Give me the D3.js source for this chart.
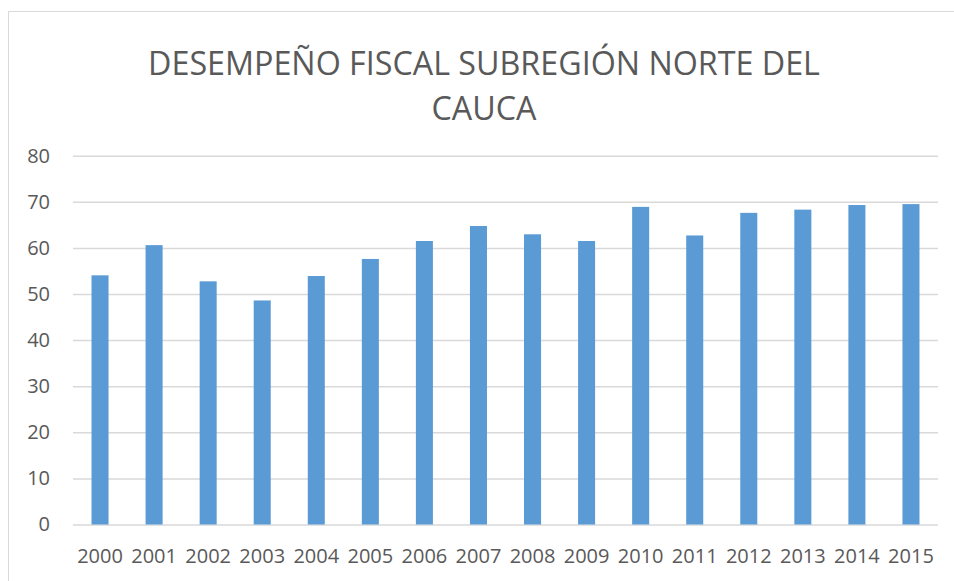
<!DOCTYPE html>
<html>
<head>
<meta charset="utf-8">
<script src="https://cdn.jsdelivr.net/npm/d3@7"></script>
<style>
  body { margin: 0; background: white; }
  text { font-family: "Open Sans", sans-serif; fill: #595959; }
</style>
</head>
<body>
<svg id="chart" width="954" height="581"></svg>
<script>
// data
const years = ['2000', '2001', '2002', '2003', '2004', '2005', '2006', '2007',
  '2008', '2009', '2010', '2011', '2012', '2013', '2014', '2015']
const values = [54.05, 60.6, 52.75, 48.6, 53.9, 57.6, 61.5, 64.75,
  62.95, 61.5, 68.9, 62.7, 67.6, 68.3, 69.3, 69.5]
const yTicks = [0, 10, 20, 30, 40, 50, 60, 70, 80]
const titleLines = ['DESEMPEÑO FISCAL SUBREGIÓN NORTE DEL', 'CAUCA']

const margin = { left: 73, right: 16, top: 155.7, bottom: 56.5 }
const width = 954 - margin.left - margin.right
const height = 581 - margin.top - margin.bottom

const svg = d3.select('#chart')

// chart frame
svg.append('rect')
  .attr('x', 8.5)
  .attr('y', 11.5)
  .attr('width', 960)
  .attr('height', 600)
  .attr('fill', 'none')
  .attr('stroke', '#d9d9d9')
  .attr('stroke-width', 1)

const g = svg.append('g')
  .attr('transform', 'translate(' + margin.left + ',' + margin.top + ')')

const xScale = d3.scaleBand().domain(years).range([0, width]).paddingInner(0.685).paddingOuter(0.3425)
const yScale = d3.scaleLinear().domain([0, 80]).range([height, 0])

/**
 * Draws the horizontal grid lines and the y labels
 */
function drawYAxis () {
  g.append('g')
    .attr('id', 'gridy')
    .call(d3.axisLeft(yScale).tickValues(yTicks).tickSize(-width).tickFormat(''))
    .call(function (sel) { sel.select('.domain').remove() })
    .selectAll('line')
    .attr('stroke', '#d9d9d9')
    .attr('stroke-width', 1.5)

  g.append('g')
    .selectAll('.ylabel')
    .data(yTicks)
    .enter()
    .append('text')
    .attr('class', 'ylabel')
    .attr('x', -23)
    .attr('y', function (d) { return yScale(d) + 7 })
    .attr('text-anchor', 'end')
    .style('font-size', '20px')
    .text(function (d) { return d })
}

/**
 * Draws the bars
 */
function drawBars () {
  g.selectAll('.bar')
    .data(values)
    .enter()
    .append('rect')
    .attr('class', 'bar')
    .attr('x', function (d, i) { return xScale(years[i]) })
    .attr('y', function (d) { return yScale(d) })
    .attr('width', xScale.bandwidth())
    .attr('height', function (d) { return height - yScale(d) })
    .attr('fill', '#5b9bd5')
}

/**
 * Draws the x labels below the zero line
 */
function drawXAxis () {
  const xAxis = g.append('g')
    .attr('transform', 'translate(0,' + height + ')')
    .call(d3.axisBottom(xScale).tickSize(0).tickPadding(0))
  xAxis.select('.domain').remove()
  xAxis.selectAll('text')
    .attr('y', 38.5)
    .attr('dy', null)
    .style('font-size', '20px')
    .style('font-family', '"Open Sans", sans-serif')
    .attr('fill', '#595959')
}

/**
 * Title on two lines, first line fitted to its width in the picture
 */
function drawTitle () {
  const cx = 484
  const t = svg.append('g').attr('class', 'title')
  const first = t.append('text')
    .attr('x', cx)
    .attr('y', 75)
    .attr('text-anchor', 'middle')
    .style('font-size', '31px')
    .text(titleLines[0])
  var w = first.node().getComputedTextLength()
  var size = 31 * 672 / w
  first.style('font-size', size + 'px')

  t.append('text')
    .attr('x', cx)
    .attr('y', 120)
    .attr('text-anchor', 'middle')
    .style('font-size', size + 'px')
    .text(titleLines[1])
}

drawYAxis()
drawBars()
drawXAxis()
drawTitle()
</script>
</body>
</html>
